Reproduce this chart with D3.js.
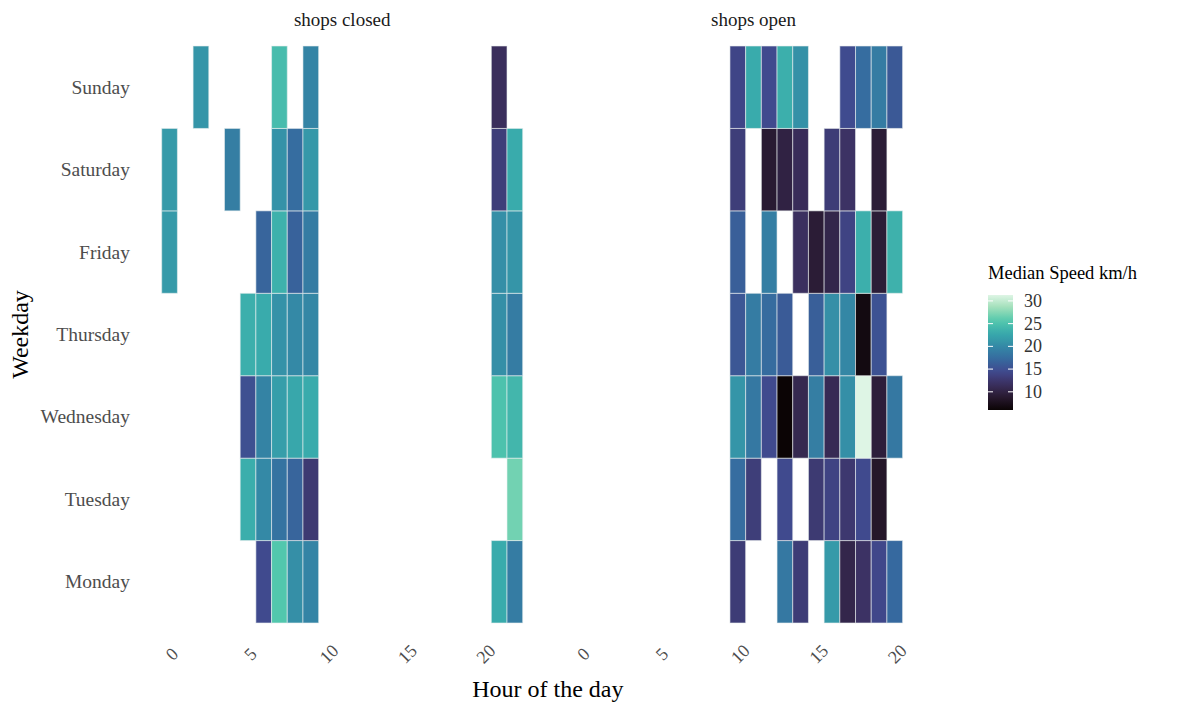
<!DOCTYPE html>
<html>
<head>
<meta charset="utf-8">
<script src="https://cdn.jsdelivr.net/npm/d3@7"></script>
<style>
  body { margin: 0; background: #fff; }
  text { font-family: "Liberation Serif", "Times New Roman", serif; }
</style>
</head>
<body>
<div id="chart"></div>
<script>
// ---- data ----
const days = ["Monday", "Tuesday", "Wednesday", "Thursday", "Friday", "Saturday", "Sunday"];
const panelNames = ["shops closed", "shops open"];
const hourTicks = [0, 5, 10, 15, 20];

// median speed per weekday (rows follow `days`), null = no observation
const closedHours = [0, 2, 4, 5, 6, 7, 8, 9, 21, 22];
const closedSpeed = [
  [null, null, null, null, 14.5, 25.5, 20.5, 19.5, 23.0, 18.8],
  [null, null, null, 23.2, 20.0, 18.0, 16.8, 12.8, null, 26.8],
  [null, null, null, 15.0, 19.4, 21.8, 22.6, 23.0, 25.0, 24.0],
  [null, null, null, 23.3, 23.0, 20.8, 20.0, 19.8, 20.5, 18.8],
  [21.5, null, null, null, 16.8, 23.5, 16.6, 18.8, 20.5, 21.0],
  [21.5, null, 19.0, null, null, 20.8, 17.5, 21.3, 13.2, 23.0],
  [null, 21.0, null, null, null, 24.5, null, 19.5, 11.5, null]
];

const openHours = [10, 11, 12, 13, 14, 15, 16, 17, 18, 19, 20];
const openSpeed = [
  [13.0, null, null, 18.5, 13.0, null, 21.5, 10.5, 12.0, 14.2, 17.2],
  [17.5, 13.2, null, 14.5, null, 12.8, 13.8, 12.6, 14.5, 8.5, null],
  [21.0, 18.5, 14.5, 6.0, 10.8, 19.0, 11.0, 20.5, 31.3, 9.5, 18.5],
  [15.6, 18.8, 17.4, 16.0, null, 16.3, 20.5, 19.8, 6.8, 15.2, null],
  [16.3, null, 19.0, null, 11.7, 9.2, 10.5, 13.8, 23.3, 9.3, 23.5],
  [13.2, null, 9.0, 10.0, 11.3, null, 13.0, 12.0, null, 9.3, null],
  [14.0, 23.0, 14.5, 23.3, 20.7, null, null, 14.6, 17.5, 18.8, 15.8]
];

const legendTicks = [10, 15, 20, 25, 30];

// mako palette stops (viridis family)
const makoStops = ["#0B0405", "#28192F", "#3B2F5E", "#40498E", "#366A9F",
                   "#348AA6", "#38AAAC", "#54C9AD", "#A0DFB9", "#DEF5E5"];

// ---- build long table ----
function toCells(panel, hours, speed) {
  const out = [];
  speed.forEach((row, i) => {
    row.forEach((v, j) => {
      if (v != null) out.push({ panel: panel, day: days[i], hour: hours[j], value: v });
    });
  });
  return out;
}
const cells = toCells(panelNames[0], closedHours, closedSpeed)
  .concat(toCells(panelNames[1], openHours, openSpeed));

// ---- layout ----
const W = 1197, H = 705;
const panelW = 361;
const panelX = { "shops closed": 161.7, "shops open": 573 };
const plotTop = 46, plotBottom = 623;

const svg = d3.select("#chart").append("svg")
  .attr("width", W).attr("height", H);

const x = d3.scaleLinear().domain([-0.5, 22.5]).range([0, panelW]);
const y = d3.scaleBand().domain(days.slice().reverse()).range([plotTop, plotBottom]);

const vExtent = d3.extent(cells, d => d.value);
const makoInterp = d3.piecewise(d3.interpolateRgb, makoStops);
const color = d3.scaleSequential(makoInterp).domain(vExtent);

const hourW = x(1) - x(0);

panelNames.forEach(p => {
  const g = svg.append("g").attr("transform", "translate(" + panelX[p] + ",0)");

  g.selectAll("rect")
    .data(cells.filter(d => d.panel === p))
    .enter().append("rect")
    .attr("x", d => x(d.hour) - hourW / 2)
    .attr("y", d => y(d.day))
    .attr("width", hourW)
    .attr("height", y.bandwidth())
    .attr("fill", d => color(d.value))
    .attr("stroke", "rgba(235,240,240,0.6)")
    .attr("stroke-width", 1);

  // strip label
  g.append("text")
    .attr("x", panelW / 2).attr("y", 26)
    .attr("text-anchor", "middle")
    .attr("font-size", "19px")
    .attr("fill", "#1a1a1a")
    .text(p);

  // x tick labels, rotated
  g.selectAll(".xtick")
    .data(hourTicks)
    .enter().append("text")
    .attr("class", "xtick")
    .attr("transform", d => "translate(" + (x(d) + 2.5) + ",654) rotate(-45)")
    .attr("text-anchor", "middle")
    .attr("dominant-baseline", "central")
    .attr("font-size", "18px")
    .attr("fill", "#4d4d4d")
    .text(d => d);
});

// y tick labels
svg.selectAll(".ytick")
  .data(days)
  .enter().append("text")
  .attr("class", "ytick")
  .attr("x", 130)
  .attr("y", d => y(d) + y.bandwidth() / 2)
  .attr("text-anchor", "end")
  .attr("dominant-baseline", "central")
  .attr("font-size", "19.5px")
  .attr("fill", "#4d4d4d")
  .text(d => d);

// axis titles
svg.append("text")
  .attr("x", (panelX["shops closed"] + panelX["shops open"] + panelW) / 2)
  .attr("y", 697)
  .attr("text-anchor", "middle")
  .attr("font-size", "24px")
  .attr("fill", "#000")
  .text("Hour of the day");

svg.append("text")
  .attr("transform", "translate(28," + (plotTop + plotBottom) / 2 + ") rotate(-90)")
  .attr("text-anchor", "middle")
  .attr("font-size", "24px")
  .attr("fill", "#000")
  .text("Weekday");

// ---- legend ----
const lg = svg.append("g");
const barX = 988, barW = 25;
const ly = d3.scaleLinear().domain(vExtent).range([410, 295]);

const grad = svg.append("defs").append("linearGradient")
  .attr("id", "makoGrad")
  .attr("x1", 0).attr("x2", 0).attr("y1", 1).attr("y2", 0);
d3.range(0, 1.0001, 0.05).forEach(t => {
  grad.append("stop")
    .attr("offset", t)
    .attr("stop-color", color(vExtent[0] + t * (vExtent[1] - vExtent[0])));
});

lg.append("text")
  .attr("x", barX).attr("y", 279)
  .attr("font-size", "18.5px")
  .attr("fill", "#000")
  .text("Median Speed km/h");

lg.append("rect")
  .attr("x", barX).attr("y", ly(vExtent[1]))
  .attr("width", barW).attr("height", ly(vExtent[0]) - ly(vExtent[1]))
  .attr("fill", "url(#makoGrad)");

legendTicks.forEach(t => {
  lg.append("line")
    .attr("x1", barX).attr("x2", barX + 5)
    .attr("y1", ly(t)).attr("y2", ly(t))
    .attr("stroke", "#fff").attr("stroke-width", 1);
  lg.append("line")
    .attr("x1", barX + barW - 5).attr("x2", barX + barW)
    .attr("y1", ly(t)).attr("y2", ly(t))
    .attr("stroke", "#fff").attr("stroke-width", 1);
  lg.append("text")
    .attr("x", barX + 36).attr("y", ly(t))
    .attr("dominant-baseline", "central")
    .attr("font-size", "18px")
    .attr("fill", "#333")
    .text(t);
});
</script>
</body>
</html>
